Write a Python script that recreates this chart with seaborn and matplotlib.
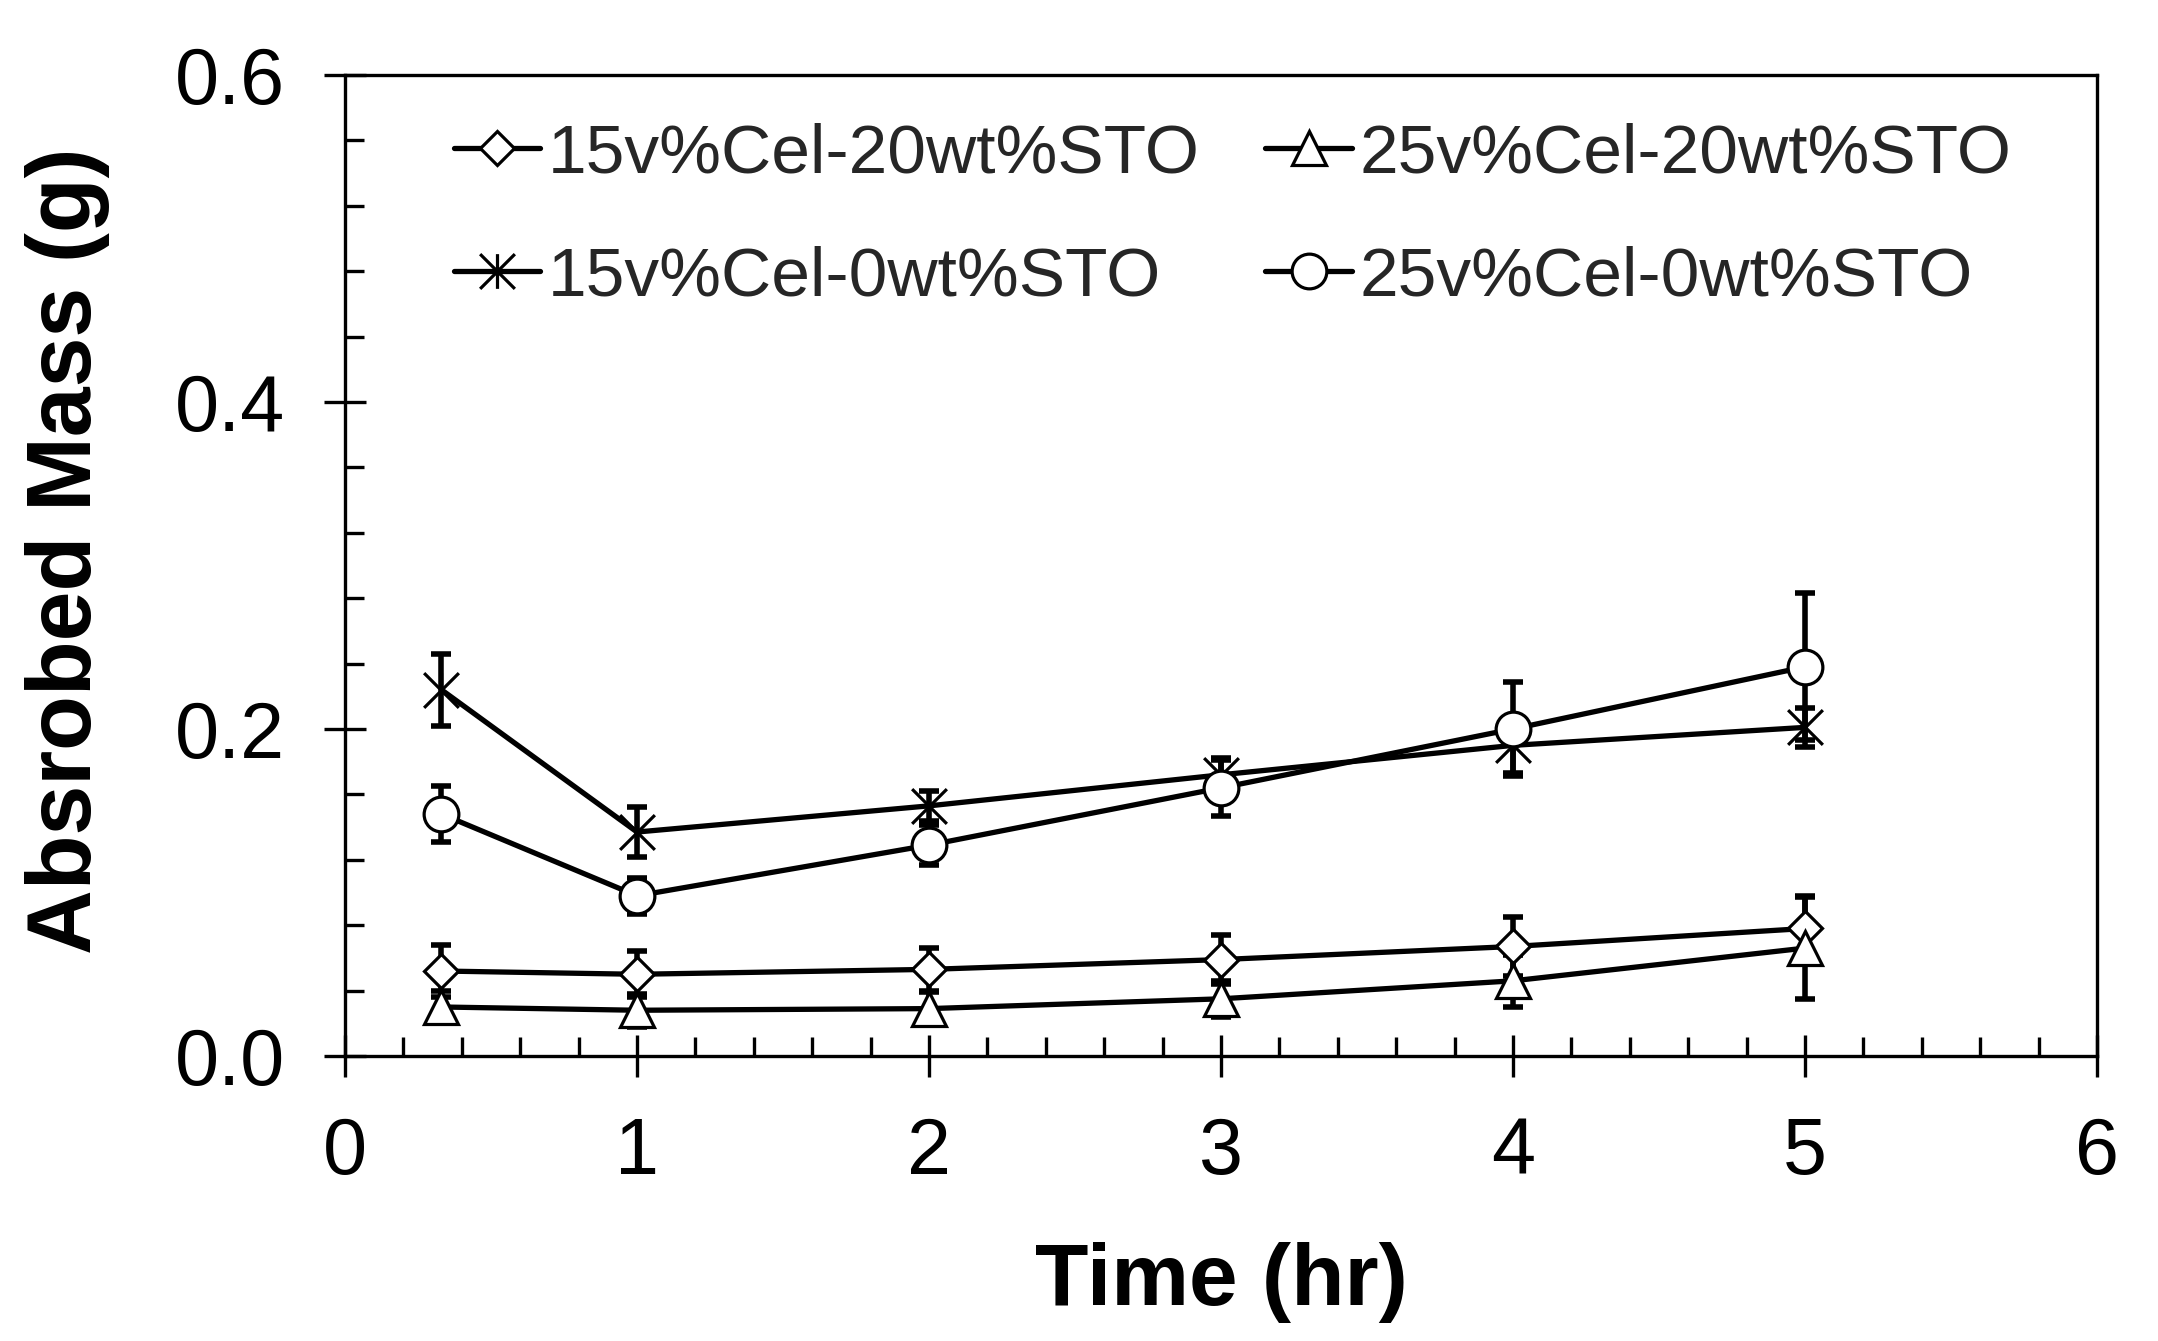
import numpy as np
import pandas as pd
import seaborn as sns
import matplotlib as mpl
import matplotlib.pyplot as plt
from matplotlib.path import Path
from matplotlib.ticker import MultipleLocator, FormatStrFormatter

sns.set_theme(style="ticks")
plt.rcParams['font.family'] = ['Liberation Sans', 'DejaVu Sans']

# data
time_hr = [0.33, 1, 2, 3, 4, 5]

cel15_sto20 = [0.052, 0.050, 0.053, 0.059, 0.067, 0.078]
cel15_sto20_err = [0.016, 0.014, 0.013, 0.015, 0.018, 0.020]

cel25_sto20 = [0.030, 0.028, 0.029, 0.035, 0.046, 0.066]
cel25_sto20_err = [0.010, 0.010, 0.010, 0.011, 0.016, 0.031]

cel15_sto0 = [0.224, 0.137, 0.153, 0.172, 0.190, 0.201]
cel15_sto0_err = [0.022, 0.015, 0.009, 0.010, 0.017, 0.012]

cel25_sto0 = [0.148, 0.098, 0.129, 0.164, 0.200, 0.238]
cel25_sto0_err = [0.017, 0.011, 0.012, 0.017, 0.029, 0.045]

labels = ["15v%Cel-20wt%STO", "25v%Cel-20wt%STO",
          "15v%Cel-0wt%STO", "25v%Cel-0wt%STO"]

# excel style star: an X with a vertical bar
star = Path([(0, -0.5), (0, 0.5), (-0.5, -0.5), (0.5, 0.5), (-0.5, 0.5), (0.5, -0.5)],
            [Path.MOVETO, Path.LINETO, Path.MOVETO, Path.LINETO, Path.MOVETO, Path.LINETO])

series = [
    (labels[0], cel15_sto20, cel15_sto20_err, "D", 17.5),
    (labels[1], cel25_sto20, cel25_sto20_err, "^", 25),
    (labels[2], cel15_sto0, cel15_sto0_err, star, 25),
    (labels[3], cel25_sto0, cel25_sto0_err, "o", 25),
]

fig, ax = plt.subplots(figsize=(21.58, 13.41), dpi=100)
fig.subplots_adjust(left=0.1599, right=0.9717, bottom=0.2125, top=0.9441)

handles = {}
for name, vals, err, mk, ms in series:
    ax.errorbar(time_hr, vals, yerr=err, fmt="none", ecolor="black",
                elinewidth=4, capsize=7.5, capthick=4, zorder=2)
    df = pd.DataFrame({"t": time_hr, "m": vals})
    sns.lineplot(data=df, x="t", y="m", ax=ax, color="black", linewidth=3.8,
                 marker=mk, markersize=ms, markerfacecolor="white",
                 markeredgecolor="black", markeredgewidth=2.3,
                 label=name, zorder=3)
    handles[name] = ax.lines[-1]

ax.set_xlim(0, 6)
ax.set_ylim(0, 0.6)
ax.xaxis.set_major_locator(MultipleLocator(1))
ax.xaxis.set_minor_locator(MultipleLocator(0.2))
ax.yaxis.set_major_locator(MultipleLocator(0.2))
ax.yaxis.set_minor_locator(MultipleLocator(0.04))
ax.yaxis.set_major_formatter(FormatStrFormatter("%.1f"))

for s in ax.spines.values():
    s.set_linewidth(2.4)
    s.set_color("black")

ax.tick_params(which="major", direction="inout", length=30, width=2.4,
               color="black", labelsize=57, labelcolor="black")
ax.tick_params(which="minor", direction="in", length=13.5, width=2.4, color="black")
ax.tick_params(axis="x", which="major", pad=28)
ax.tick_params(axis="y", which="major", pad=28)

ax.set_xlabel("Time (hr)", fontsize=63, fontweight="bold", color="black")
ax.set_ylabel("Absrobed Mass (g)", fontsize=64.5, fontweight="bold", color="black")
ax.xaxis.set_label_coords(0.5, -0.19)
ax.yaxis.set_label_coords(-0.134, 0.515)

order = [labels[0], labels[2], labels[1], labels[3]]
ax.legend([handles[n] for n in order], order, ncol=2, frameon=False,
          loc="upper left", bbox_to_anchor=(0.062, 0.952), borderpad=0,
          fontsize=50, handlelength=1.25, handletextpad=0.1,
          columnspacing=0.95, labelspacing=0.85, borderaxespad=0)

fig.savefig("out.png", dpi=100)
